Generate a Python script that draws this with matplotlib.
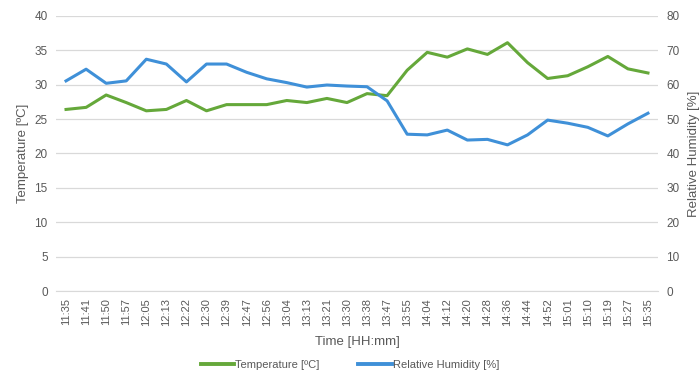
import matplotlib
matplotlib.use('Agg')
from matplotlib import pyplot as plt

times = ['11:35', '11:41', '11:50', '11:57', '12:05', '12:13', '12:22', '12:30',
         '12:39', '12:47', '12:56', '13:04', '13:13', '13:21', '13:30', '13:38',
         '13:47', '13:55', '14:04', '14:12', '14:20', '14:28', '14:36', '14:44',
         '14:52', '15:01', '15:10', '15:19', '15:27', '15:35']
temperature = [26.4, 26.7, 28.5, 27.4, 26.2, 26.4, 27.7, 26.2, 27.1, 27.1,
               27.1, 27.7, 27.4, 28.0, 27.4, 28.7, 28.4, 32.1, 34.7, 34.0,
               35.2, 34.4, 36.1, 33.2, 30.9, 31.3, 32.6, 34.1, 32.3, 31.7]
humidity = [61.1, 64.5, 60.4, 61.1, 67.4, 66.0, 60.8, 66.0, 66.0, 63.6,
            61.7, 60.6, 59.3, 59.9, 59.6, 59.4, 55.3, 45.6, 45.4, 46.8,
            43.9, 44.1, 42.5, 45.4, 49.7, 48.8, 47.6, 45.1, 48.6, 51.7]

GREEN = '#65A83A'
BLUE = '#3F90D8'
GRAY = '#595959'

plt.rcParams['font.family'] = ['Liberation Sans', 'DejaVu Sans']

fig = plt.figure(figsize=(7, 3.78), dpi=100)
ax = fig.add_axes([0.08, 0.23, 0.86, 0.728])
ax2 = ax.twinx()

x = list(range(len(times)))
l1, = ax.plot(x, temperature, color=GREEN, lw=2.2, label='Temperature [ºC]')
l2, = ax2.plot(x, humidity, color=BLUE, lw=2.2, label='Relative Humidity [%]')

ax.set_xlim(-0.5, len(times) - 0.5)
ax.set_ylim(0, 40)
ax2.set_ylim(0, 80)
ax.set_yticks(range(0, 41, 5))
ax2.set_yticks(range(0, 81, 10))
ax.set_xticks(x)
ax.set_xticklabels(times, rotation=90, fontsize=8, color=GRAY)
ax.yaxis.grid(True, color='#D9D9D9', lw=0.9)
ax.set_axisbelow(True)

for a in (ax, ax2):
    for s in a.spines.values():
        s.set_visible(False)
    a.tick_params(length=0, labelsize=8.5, labelcolor=GRAY, pad=6)
ax.spines['bottom'].set_visible(True)
ax.spines['bottom'].set_color('#D9D9D9')
ax.tick_params(axis='x', labelsize=8, pad=5)

ax.set_xlabel('Time [HH:mm]', fontsize=9.5, color=GRAY, labelpad=7)
ax.set_ylabel('Temperature [ºC]', fontsize=9.5, color=GRAY, labelpad=4)
ax2.set_ylabel('Relative Humidity [%]', fontsize=9.5, color=GRAY, labelpad=6)

leg = fig.legend(handles=[l1, l2], loc='lower center', bbox_to_anchor=(0.5, -0.005),
                 ncol=2, frameon=False, fontsize=8, handlelength=3, handletextpad=0.1,
                 columnspacing=3.5, labelcolor=GRAY)
for h in leg.get_lines():
    h.set_linewidth(2.8)

fig.savefig('out.png', dpi=100)
